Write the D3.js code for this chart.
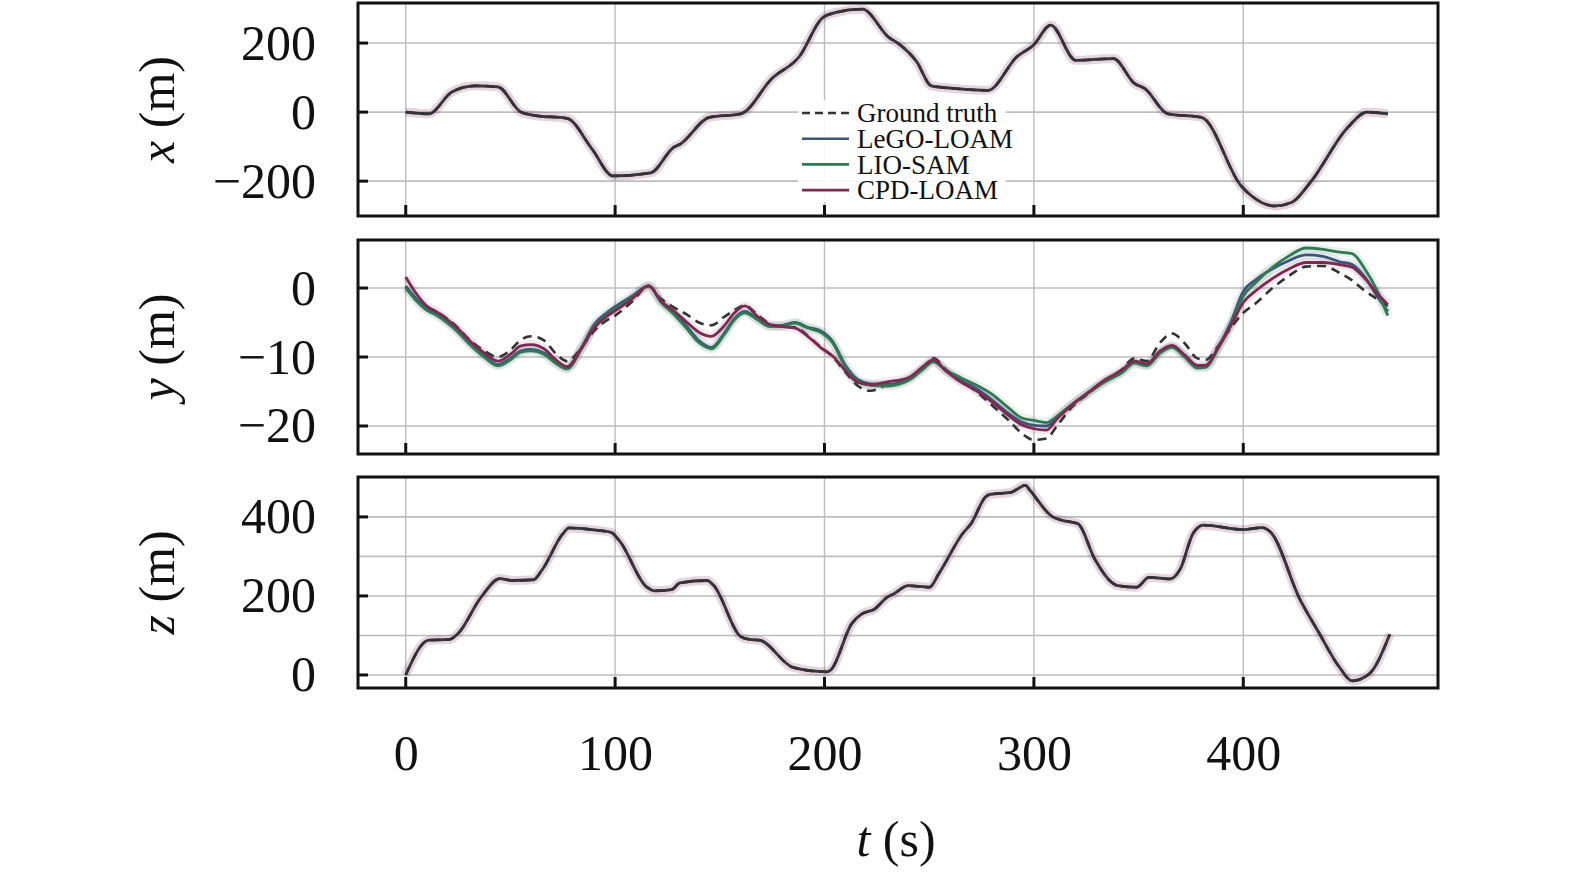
<!DOCTYPE html>
<html>
<head>
<meta charset="utf-8">
<script src="https://cdn.jsdelivr.net/npm/d3@7"></script>
<style>
  html, body { margin: 0; padding: 0; background: #fff; }
  svg { display: block; }
  text { font-family: "Liberation Serif", "Times New Roman", serif; fill: #111; }
</style>
</head>
<body>
<svg id="chart"></svg>
<script>
// ---- data ---------------------------------------------------------------
// x(t): the four curves coincide in this panel
const tX = [0, 11, 22, 33, 44, 55, 62, 77, 89, 99, 117, 128, 131, 145, 160, 175, 188, 199, 205, 218,
            231, 235, 244, 251, 259, 278, 292, 300, 308, 320, 338, 348, 353, 364, 380, 399, 404, 415, 423, 432,
            450, 459, 469];
const xTrack = [0, -5, 58, 76, 73, 0, -10, -18, -107, -185, -176, -102, -93, -15, -5, 98, 161, 273, 288, 298,
                215, 200, 146, 76, 70, 63, 161, 195, 252, 150, 155, 83, 68, -5, -15, -214, -243, -272, -262, -204,
                -44, 0, -5];

// y(t): the curves separate here
const tY = [0, 5, 10, 15, 20, 25, 30, 37, 44, 50, 55, 60, 66, 72, 77, 84, 90, 96, 100, 108,
            116, 122, 128, 134, 140, 146, 152, 157, 162, 168, 174, 180, 186, 192, 198, 204, 210, 216, 222, 230,
            240, 247, 252, 258, 265, 272, 280, 288, 294, 300, 306, 311, 318, 326, 334, 342, 348, 354, 360, 366,
            372, 378, 382, 388, 394, 400, 406, 414, 422, 430, 438, 446, 452, 458, 464, 469];
const yGT = [0.3, -1.8, -2.8, -3.5, -4.5, -5.8, -7.4, -9.0, -10.0, -9.0,
             -7.5, -7.0, -7.6, -9.6, -10.6, -8.6, -6.2, -4.7, -4.0, -2.0,
             0.3, -1.6, -2.8, -3.8, -5.0, -5.4, -4.2, -3.2, -2.5, -3.9,
             -5.2, -5.6, -5.7, -6.9, -8.5, -10.0, -12.2, -14.2, -14.9, -14.0,
             -13.2, -11.5, -10.2, -11.8, -13.4, -14.9, -17.0, -19.2, -21.0, -22.0,
             -21.8, -20.0, -17.3, -15.3, -13.4, -11.8, -10.2, -10.6, -8.0, -6.6,
             -8.0, -10.2, -10.4, -8.4, -5.8, -3.6, -2.2, 0.0, 1.8, 3.1,
             3.2, 2.2, 1.1, -0.4, -1.6, -2.6];
const yLeGO = [0.2, -1.5, -3.0, -3.8, -4.9, -6.2, -7.8, -9.7, -11.1, -10.2,
               -9.1, -8.9, -9.4, -10.9, -11.7, -8.6, -5.3, -3.6, -2.7, -1.2,
               0.3, -2.0, -3.6, -5.5, -7.6, -8.6, -6.6, -4.4, -3.4, -4.5,
               -5.5, -5.4, -5.0, -5.7, -6.2, -7.8, -11.2, -13.3, -13.9, -14.0,
               -13.2, -11.7, -10.6, -12.0, -13.4, -14.5, -16.2, -18.2, -19.4, -19.9,
               -20.0, -18.8, -17.0, -15.2, -13.5, -12.2, -10.8, -11.2, -9.4, -8.5,
               -9.8, -11.4, -11.4, -8.6, -5.0, -0.5, 1.2, 2.8, 4.0, 4.8,
               4.6, 3.8, 3.4, 1.6, -1.2, -3.4];
const yLIO = [0.0, -1.8, -3.2, -4.0, -5.1, -6.4, -8.0, -9.9, -11.3, -10.4,
              -9.3, -9.1, -9.6, -11.0, -11.7, -8.8, -5.6, -3.9, -3.0, -1.4,
              0.3, -2.1, -3.8, -5.8, -7.9, -8.8, -6.8, -4.6, -3.6, -4.6,
              -5.6, -5.5, -5.1, -5.8, -6.4, -8.0, -11.5, -13.6, -14.1, -14.2,
              -13.4, -11.8, -10.7, -11.9, -13.0, -14.0, -15.4, -17.4, -18.8, -19.2,
              -19.5, -18.6, -16.9, -15.2, -13.6, -12.3, -10.9, -11.3, -9.5, -8.6,
              -10.0, -11.6, -11.5, -8.8, -5.4, -1.2, 0.8, 3.0, 4.7, 5.8,
              5.6, 5.2, 5.0, 2.8, -0.4, -4.0];
const yCPD = [1.6, -0.8, -2.6, -3.5, -4.6, -5.9, -7.5, -9.3, -10.6, -9.6,
              -8.4, -8.2, -8.8, -10.5, -11.4, -8.7, -5.8, -4.1, -3.3, -1.6,
              0.3, -1.9, -3.3, -4.9, -6.4, -7.0, -5.5, -3.6, -2.6, -4.1,
              -5.3, -5.6, -5.8, -7.0, -8.6, -9.9, -12.0, -13.7, -14.0, -13.6,
              -13.0, -11.4, -10.4, -12.0, -13.6, -14.8, -16.5, -18.5, -19.8, -20.4,
              -20.6, -19.0, -17.0, -15.1, -13.3, -11.9, -10.6, -11.0, -9.2, -8.3,
              -9.7, -11.2, -11.2, -8.6, -5.5, -2.1, -0.4, 1.4, 2.8, 3.7,
              3.7, 3.4, 3.0, 1.4, -0.8, -2.4];

// z(t): the four curves coincide in this panel
const tZ = [0, 11, 21, 25, 36, 45, 51, 61, 65, 75, 78, 90, 98, 102, 115, 119, 127, 131, 144, 147,
            160, 164, 169, 185, 201, 203, 213, 218, 224, 230, 233, 240, 250, 255, 266, 270, 277, 279, 289, 296,
            298, 309, 313, 321, 329, 337, 340, 349, 355, 365, 370, 376, 381, 400, 409, 413, 427, 436, 446, 452,
            460, 470];
const zTrack = [0, 88, 90, 105, 197, 244, 239, 241, 265, 357, 372, 367, 361, 340, 223, 213, 216, 233, 239, 227,
                97, 90, 88, 19, 8, 13, 130, 155, 167, 197, 205, 226, 222, 260, 358, 383, 451, 457, 462, 480,
                468, 400, 392, 383, 294, 235, 226, 222, 247, 243, 269, 358, 379, 368, 373, 362, 192, 108, 19, -15,
                2, 103];

const seriesNames = ["Ground truth", "LeGO-LOAM", "LIO-SAM", "CPD-LOAM"];
const timeTicks = [0, 100, 200, 300, 400];
const xTicks = [-200, 0, 200];
const yTicks = [-20, -10, 0];
const zTicks = [0, 200, 400];
const zGrid = [0, 100, 200, 300, 400, 500];

// ---- layout ---------------------------------------------------------------
const width = 1577, height = 876;
const left = 358, right = 1438;
const fontSize = 50;

const color = d3.scaleOrdinal()
  .domain(seriesNames)
  .range(["#333333", "#3c5578", "#2f7a52", "#7d2a52"]);

const svg = d3.select("#chart").attr("width", width).attr("height", height);

const tScale = d3.scaleLinear().domain([-22.8, 493]).range([left, right]);

const panels = [
  { name: "x", top: 3, bottom: 216, domain: [-301, 316], ticks: xTicks, grid: xTicks,
    t: [tX, tX, tX, tX], v: [xTrack, xTrack, xTrack, xTrack], overlap: true },
  { name: "y", top: 240, bottom: 454, domain: [-24.06, 6.96], ticks: yTicks, grid: yTicks,
    t: [tY, tY, tY, tY], v: [yGT, yLeGO, yLIO, yCPD], overlap: false },
  { name: "z", top: 477, bottom: 688, domain: [-33, 501], ticks: zTicks, grid: zGrid,
    t: [tZ, tZ, tZ, tZ], v: [zTrack, zTrack, zTrack, zTrack], overlap: true }
];

panels.forEach(p => {
  const vScale = d3.scaleLinear().domain(p.domain).range([p.bottom, p.top]);
  const g = svg.append("g").attr("class", "panel " + p.name);

  const clipId = "clip-" + p.name;
  svg.append("clipPath").attr("id", clipId)
    .append("rect")
    .attr("x", left).attr("y", p.top)
    .attr("width", right - left).attr("height", p.bottom - p.top);

  // grid
  g.append("g").selectAll("line.hgrid")
    .data(p.grid)
    .enter().append("line")
    .attr("x1", left).attr("x2", right)
    .attr("y1", d => vScale(d)).attr("y2", d => vScale(d))
    .attr("stroke", "#bdbdbd").attr("stroke-width", 1.6);
  g.append("g").selectAll("line.vgrid")
    .data(timeTicks)
    .enter().append("line")
    .attr("x1", d => tScale(d)).attr("x2", d => tScale(d))
    .attr("y1", p.top).attr("y2", p.bottom)
    .attr("stroke", "#bdbdbd").attr("stroke-width", 1.4);

  // curves
  const curves = g.append("g").attr("clip-path", `url(#${clipId})`);
  const line = d3.line()
    .x(d => tScale(d[0]))
    .y(d => vScale(d[1]))
    .curve(d3.curveMonotoneX);
  const pts = i => p.t[i].map((t, k) => [t, p.v[i][k]]);

  // faint halo round the estimates
  seriesNames.forEach((name, i) => {
    if (i === 0) return;
    curves.append("path")
      .attr("d", line(pts(i)))
      .attr("fill", "none")
      .attr("stroke", p.overlap ? color(seriesNames[3]) : color(name))
      .attr("stroke-opacity", p.overlap ? 0.07 : 0.1)
      .attr("stroke-width", 9);
  });

  // when all curves coincide the estimates are blended and the
  // dashed ground truth sits on top; otherwise ground truth goes first
  const order = p.overlap ? [1, 2, 3, 0] : [0, 1, 2, 3];
  order.forEach(i => {
    const name = seriesNames[i];
    const path = curves.append("path")
      .attr("d", line(pts(i)))
      .attr("fill", "none")
      .attr("stroke", color(name))
      .attr("stroke-width", i === 0 ? 2.6 : 2.8)
      .attr("stroke-linejoin", "round");
    if (i === 0) path.attr("stroke-dasharray", "9,6");
    if (p.overlap && i > 0) path.attr("stroke-opacity", 0.55).style("mix-blend-mode", "multiply");
  });

  // y tick labels
  const axis = g.append("g")
    .attr("transform", `translate(${left},0)`)
    .call(d3.axisLeft(vScale).tickValues(p.ticks).tickSize(0).tickPadding(42));
  axis.select(".domain").remove();
  axis.selectAll("text")
    .attr("font-family", "Liberation Serif, serif")
    .attr("font-size", fontSize)
    .attr("fill", "#111");

  // inward tick marks
  g.append("g").selectAll("line.ytick")
    .data(p.ticks)
    .enter().append("line")
    .attr("x1", left).attr("x2", left + 10)
    .attr("y1", d => vScale(d)).attr("y2", d => vScale(d))
    .attr("stroke", "#111").attr("stroke-width", 3);
  g.append("g").selectAll("line.ttick")
    .data(timeTicks)
    .enter().append("line")
    .attr("x1", d => tScale(d)).attr("x2", d => tScale(d))
    .attr("y1", p.bottom).attr("y2", p.bottom - 11)
    .attr("stroke", "#111").attr("stroke-width", 3);

  // frame
  g.append("rect")
    .attr("x", left).attr("y", p.top)
    .attr("width", right - left).attr("height", p.bottom - p.top)
    .attr("fill", "none").attr("stroke", "#111").attr("stroke-width", 3);

  // axis title
  const title = svg.append("text")
    .attr("transform", `translate(174,${(p.top + p.bottom) / 2}) rotate(-90)`)
    .attr("text-anchor", "middle")
    .attr("font-size", fontSize);
  title.append("tspan").attr("font-style", "italic").text(p.name);
  title.append("tspan").text(" (m)");
});

// time axis labels below the last panel
const tAxis = svg.append("g")
  .attr("transform", `translate(0,${panels[2].bottom})`)
  .call(d3.axisBottom(tScale).tickValues(timeTicks).tickSize(0).tickPadding(46));
tAxis.select(".domain").remove();
tAxis.selectAll("text")
  .attr("font-family", "Liberation Serif, serif")
  .attr("font-size", fontSize)
  .attr("fill", "#111");

const tTitle = svg.append("text")
  .attr("x", 896).attr("y", 856)
  .attr("text-anchor", "middle")
  .attr("font-size", fontSize);
tTitle.append("tspan").attr("font-style", "italic").text("t");
tTitle.append("tspan").text(" (s)");

// legend inside the top panel
const legend = svg.append("g").attr("class", "legend");
legend.append("rect")
  .attr("x", 798).attr("y", 100).attr("width", 208).attr("height", 102)
  .attr("fill", "#fff").attr("fill-opacity", 0.9);
const rows = legend.selectAll("g.row")
  .data(seriesNames)
  .enter().append("g")
  .attr("transform", (d, i) => `translate(0,${113 + i * 25.7})`);
rows.append("line")
  .attr("x1", 802).attr("x2", 849)
  .attr("stroke", d => color(d))
  .attr("stroke-width", 2.6)
  .attr("stroke-dasharray", (d, i) => i === 0 ? "8,5" : null);
rows.append("text")
  .attr("x", 857).attr("dy", "0.34em")
  .attr("font-size", 27)
  .text(d => d);
</script>
</body>
</html>
